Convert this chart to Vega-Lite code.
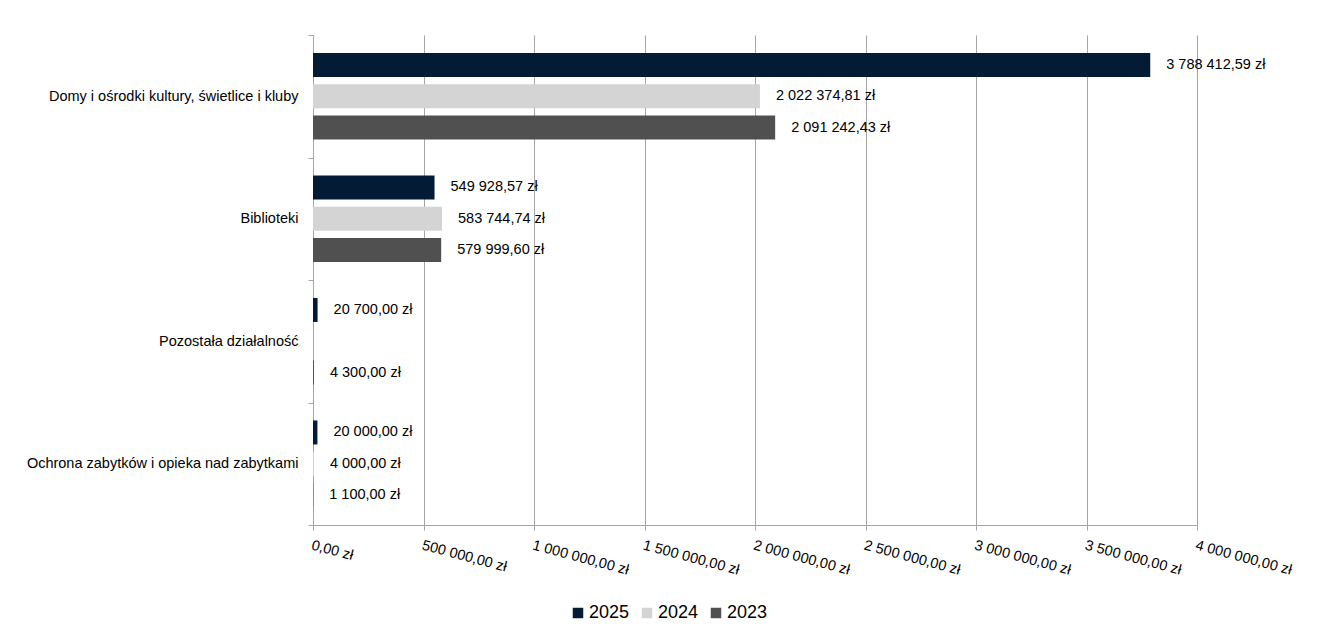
{
  "$schema": "https://vega.github.io/schema/vega-lite/v6.json",
  "width": 884,
  "height": 490,
  "autosize": {"type": "none"},
  "padding": {"left": 313, "top": 35, "right": 125, "bottom": 116},
  "background": "white",
  "config": {
    "locale": {"number": {"decimal": ",", "thousands": " ", "grouping": [3], "currency": ["", " zł"]}},
    "font": "Liberation Sans",
    "view": {"stroke": null}
  },
  "data": {
    "values": [
      {"kategoria": "Domy i ośrodki kultury, świetlice i kluby", "rok": "2025", "kwota": 3788412.59},
      {"kategoria": "Domy i ośrodki kultury, świetlice i kluby", "rok": "2024", "kwota": 2022374.81},
      {"kategoria": "Domy i ośrodki kultury, świetlice i kluby", "rok": "2023", "kwota": 2091242.43},
      {"kategoria": "Biblioteki", "rok": "2025", "kwota": 549928.57},
      {"kategoria": "Biblioteki", "rok": "2024", "kwota": 583744.74},
      {"kategoria": "Biblioteki", "rok": "2023", "kwota": 579999.60},
      {"kategoria": "Pozostała działalność", "rok": "2025", "kwota": 20700.00},
      {"kategoria": "Pozostała działalność", "rok": "2023", "kwota": 4300.00},
      {"kategoria": "Ochrona zabytków i opieka nad zabytkami", "rok": "2025", "kwota": 20000.00},
      {"kategoria": "Ochrona zabytków i opieka nad zabytkami", "rok": "2024", "kwota": 4000.00},
      {"kategoria": "Ochrona zabytków i opieka nad zabytkami", "rok": "2023", "kwota": 1100.00}
    ]
  },
  "encoding": {
    "y": {
      "field": "kategoria",
      "type": "nominal",
      "sort": ["Domy i ośrodki kultury, świetlice i kluby", "Biblioteki", "Pozostała działalność", "Ochrona zabytków i opieka nad zabytkami"],
      "scale": {"paddingInner": 0, "paddingOuter": 0},
      "axis": {
        "title": null,
        "tickBand": "extent",
        "tickSize": 5,
        "tickColor": "#a6a6a6",
        "domainColor": "#a6a6a6",
        "labelPadding": 10,
        "labelFontSize": 14.5,
        "labelColor": "#000000",
        "labelLimit": 320,
        "grid": false
      }
    },
    "yOffset": {
      "field": "rok",
      "type": "nominal",
      "sort": ["2025", "2024", "2023"],
      "scale": {"paddingInner": 0.233, "paddingOuter": 0.573}
    },
    "x": {
      "field": "kwota",
      "type": "quantitative",
      "scale": {"domain": [0, 4000000], "nice": false},
      "axis": {
        "title": null,
        "values": [0, 500000, 1000000, 1500000, 2000000, 2500000, 3000000, 3500000, 4000000],
        "format": "$,.2f",
        "labelAngle": 15,
        "labelAlign": "left",
        "labelBaseline": "top",
        "labelPadding": 8,
        "labelFontSize": 14.5,
        "labelColor": "#000000",
        "labelFlush": false,
        "labelOverlap": false,
        "tickSize": 5,
        "tickColor": "#a6a6a6",
        "domainColor": "#a6a6a6",
        "grid": true,
        "gridColor": "#a6a6a6",
        "gridWidth": 1
      }
    }
  },
  "layer": [
    {
      "mark": {"type": "bar"},
      "encoding": {
        "color": {
          "field": "rok",
          "type": "nominal",
          "sort": ["2025", "2024", "2023"],
          "scale": {"domain": ["2025", "2024", "2023"], "range": ["#031b34", "#d4d4d4", "#505050"]},
          "legend": {
            "title": null,
            "orient": "none",
            "direction": "horizontal",
            "legendX": 256,
            "legendY": 569,
            "symbolType": "square",
            "symbolSize": 110,
            "symbolStrokeWidth": 0,
            "labelFontSize": 18,
            "labelColor": "#000000",
            "labelOffset": 2,
            "columnPadding": 8
          }
        }
      }
    },
    {
      "mark": {"type": "text", "align": "left", "baseline": "middle", "dx": 16, "fontSize": 14.5, "color": "#000000"},
      "encoding": {
        "text": {"field": "kwota", "type": "quantitative", "format": "$,.2f"}
      }
    }
  ]
}
